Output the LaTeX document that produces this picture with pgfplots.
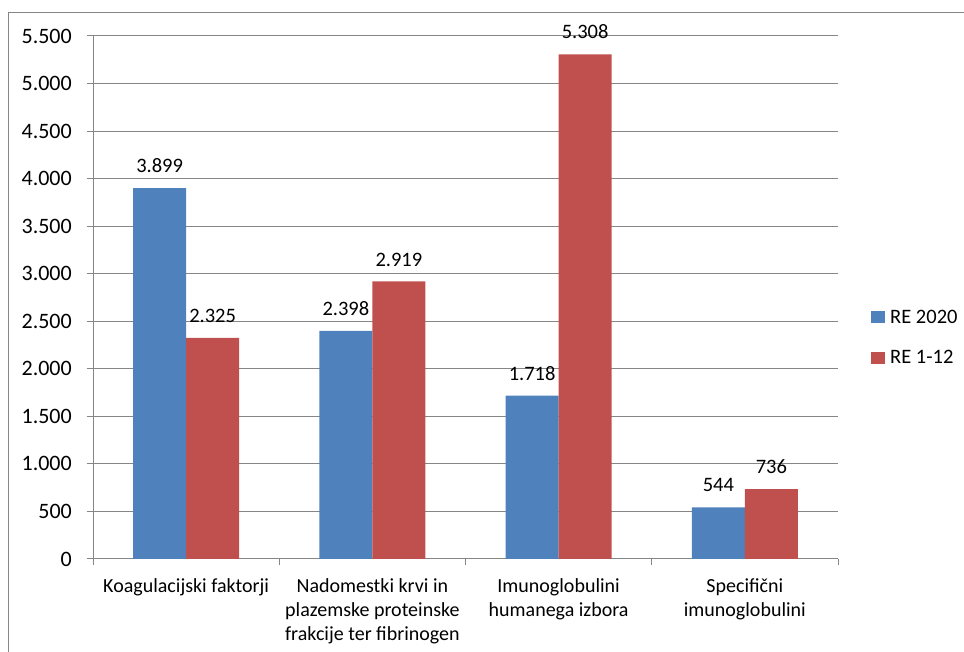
\documentclass[border=0pt]{standalone}
\usepackage{fontspec}
\setmainfont{Carlito}
\usepackage{pgfplots}
\pgfplotsset{compat=1.18}
\definecolor{blueS}{HTML}{4F81BD}
\definecolor{redS}{HTML}{C0504D}
\definecolor{gridc}{HTML}{868686}
\begin{document}
\begin{tikzpicture}
\path[use as bounding box] (0,0) rectangle (964pt,652pt);
% chart frame (cut off at right and bottom)
\draw[gridc, line width=1pt] (8.5pt,-10pt) -- (8.5pt,639.3pt) -- (990pt,639.3pt);
\begin{axis}[
    at={(93pt,93pt)}, anchor=south west,
    scale only axis, width=745pt, height=523pt,
    ybar=0pt, bar width=53pt,
    xmin=-0.5, xmax=3.5,
    ymin=0, ymax=5500,
    ytick={0,500,...,5500},
    minor ytick={0,500,...,5500},
    scaled y ticks=false,
    xtick={0,1,2,3},
    xticklabels={Koagulacijski faktorji,
        {Nadomestki krvi in\\plazemske proteinske\\frakcije ter fibrinogen},
        {Imunoglobulini\\humanega izbora},
        {Specifični\\imunoglobulini}},
    minor xtick={-0.5,0.5,1.5,2.5,3.5},
    axis x line*=bottom,
    axis y line*=left,
    axis line style={gridc, line width=1pt},
    tick style={gridc, line width=1pt},
    tick align=outside,
    major tick length=0pt,
    minor tick length=6pt,
    ymajorgrids=true,
    grid style={gridc, line width=1pt},
    /pgf/number format/assume math mode=true,
    /pgf/number format/1000 sep={.},
    yticklabel style={font=\fontsize{22}{26}\selectfont, anchor=east, inner sep=0pt, xshift=-21pt},
    xticklabel style={font=\fontsize{20}{24}\selectfont, anchor=north, inner sep=0pt, align=center, yshift=-19pt},
    nodes near coords={\pgfmathprintnumber[1000 sep={.}, assume math mode=true]{\pgfplotspointmeta}},
    every node near coord/.append style={font=\fontsize{20.5}{24}\selectfont, black, anchor=south, inner sep=0pt, yshift=15pt},
    legend style={at={(1.0443,0.477)}, anchor=north west, draw=none, fill=none,
        inner sep=0pt, row sep=26pt, font=\fontsize{20.5}{24}\selectfont,
        nodes={inner sep=0pt},
        /tikz/every odd column/.append style={column sep=5pt}},
    legend cell align=left,
    legend image code/.code={\fill[#1] (0pt,-5.8pt) rectangle (14pt,5.8pt);},
]
\addplot[fill=blueS, draw=none] coordinates {(0,3899) (1,2398) (2,1718) (3,544)};
\addplot[fill=redS, draw=none] coordinates {(0,2325) (1,2919) (2,5308) (3,736)};
\legend{RE 2020, RE 1-12}
\end{axis}
\end{tikzpicture}
\end{document}
